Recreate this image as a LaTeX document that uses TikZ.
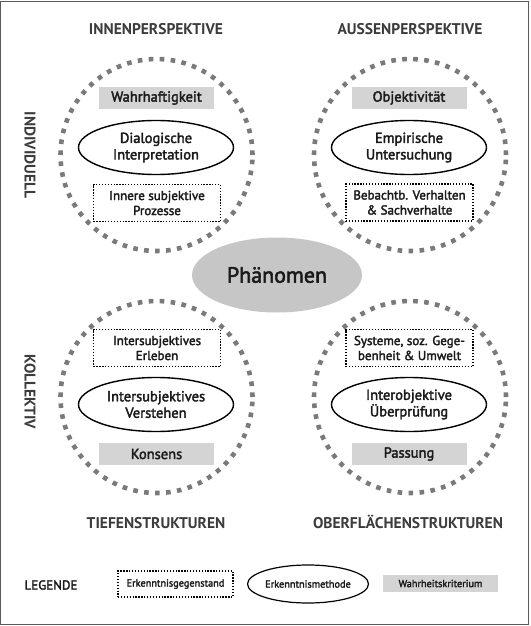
\documentclass[tikz,border=0pt]{standalone}
\usepackage{fontspec}
\setmainfont{PT Sans}
\newfontfamily\semi[FakeBold=2.4]{PT Sans}
\usetikzlibrary{shapes.geometric}
\definecolor{circ}{HTML}{7A7A7A}
\definecolor{boxgray}{HTML}{D4D4D4}
\definecolor{phgray}{HTML}{C6C6C6}
\definecolor{headc}{HTML}{3C3C3C}
\definecolor{txtc}{HTML}{1A1A1A}
\definecolor{framec}{HTML}{5A5A5A}
\tikzset{
  ring/.style={circle, draw=circ, line width=4.6pt, dash pattern=on 4.6pt off 6.4pt, minimum size=192pt, inner sep=0pt},
  crit/.style={fill=boxgray, minimum width=115pt, minimum height=22pt, inner sep=0pt, text=txtc, font=\semi\fontsize{14.5}{16}\selectfont},
  meth/.style={ellipse, draw=black, line width=1.4pt, minimum width=155pt, minimum height=54pt, inner sep=0pt, align=center, text=txtc, font=\semi\fontsize{14.5}{16.5}\selectfont},
  obj/.style={draw=black, line width=1.3pt, dash pattern=on 1.3pt off 1.6pt, minimum width=127pt, minimum height=37pt, inner sep=0pt, align=center, text=txtc, font=\semi\fontsize{13}{15}\selectfont},
  head/.style={text=headc, font=\bfseries\fontsize{15.5}{17}\selectfont},
}
\begin{document}
\begin{tikzpicture}[x=1pt, y=-1pt]
\useasboundingbox (0,0) rectangle (530,626);
\draw[framec, line width=1.3pt] (0.8,1.4) rectangle (528.4,624.6);

% rings
\node[ring] (r1) at (156.5,155) {};
\node[ring] (r2) at (410,155) {};
\node[ring] (r3) at (156.5,397) {};
\node[ring] (r4) at (410,397) {};

% headings
\node[head] (h1) at (156,29) {INNENPERSPEKTIVE};
\node[head] (h2) at (410,29) {AUSSENPERSPEKTIVE};
\node[head] (h3) at (156,523) {TIEFENSTRUKTUREN};
\node[head] (h4) at (408,522) {OBERFLÄCHENSTRUKTUREN};
\node[head, rotate=-90] (v1) at (30,155) {INDIVIDUELL};
\node[head, rotate=-90] (v2) at (30,392) {KOLLEKTIV};

% top-left
\node[crit] (k1) at (156.5,98) {Wahrhaftigkeit};
\node[meth] (m1) at (156,147.5) {Dialogische\\Interpretation};
\node[obj] (o1) at (157,203) {Innere subjektive\\Prozesse};

% top-right
\node[crit] (k2) at (409,98) {Objektivität};
\node[meth] (m2) at (409,147.5) {Empirische\\Untersuchung};
\node[obj] (o2) at (409.5,202.5) {Bebachtb. Verhalten\\\& Sachverhalte};

% bottom-left
\node[obj] (o3) at (157,348) {Intersubjektives\\Erleben};
\node[meth] (m3) at (156,404.5) {Intersubjektives\\Verstehen};
\node[crit] (k3) at (156.5,454) {Konsens};

% bottom-right
\node[obj] (o4) at (409.5,348) {Systeme, soz. Gege-\\benheit \& Umwelt};
\node[meth] (m4) at (409,404.5) {Interobjektive\\Überprüfung};
\node[crit] (k4) at (409,454) {Passung};

% centre
\node[ellipse, fill=phgray, minimum width=170pt, minimum height=75pt, inner sep=0pt, text=txtc, font=\semi\fontsize{22}{24}\selectfont] (ph) at (277,275) {Phänomen};

% legend
\node[text=txtc, font=\semi\fontsize{13}{14}\selectfont] (lg) at (51,585) {LEGENDE};
\node[obj, minimum width=115pt, minimum height=26pt, font=\semi\fontsize{10.3}{12}\selectfont] (lo) at (175.5,584) {Erkenntnisgegenstand};
\node[meth, minimum width=116pt, minimum height=38pt, line width=1.2pt, font=\semi\fontsize{10.3}{12}\selectfont] (lm) at (308,584) {Erkenntnismethode};
\node[crit, minimum width=115pt, minimum height=17pt, font=\semi\fontsize{10.3}{12}\selectfont] (lk) at (440.5,583.5) {Wahrheitskriterium};
\end{tikzpicture}
\end{document}
